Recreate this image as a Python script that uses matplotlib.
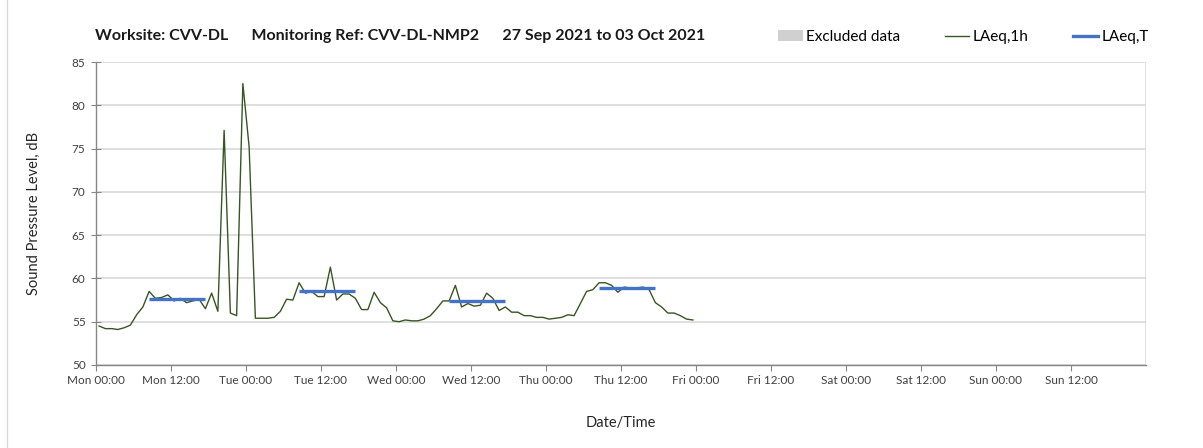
import matplotlib.pyplot as plt
from matplotlib.patches import Patch
from matplotlib.lines import Line2D
import numpy as np

plt.rcParams['font.family'] = ['Lato', 'DejaVu Sans']

# hourly LAeq,1h from Mon 27 Sep 2021 00:00 (dB)
laeq_1h = [54.5, 54.2, 54.2, 54.1, 54.3, 54.6, 55.8, 56.7, 58.5, 57.7,
           57.8, 58.1, 57.4, 57.7, 57.2, 57.4, 57.6, 56.5, 58.3, 56.2,
           77.1, 56.0, 55.7, 82.5, 75.2, 55.4, 55.4, 55.4, 55.5, 56.2,
           57.6, 57.5, 59.5, 58.3, 58.5, 57.9, 57.9, 61.3, 57.5, 58.2,
           58.2, 57.7, 56.4, 56.4, 58.4, 57.2, 56.6, 55.1, 55.0, 55.2,
           55.1, 55.1, 55.3, 55.7, 56.5, 57.4, 57.4, 59.2, 56.7, 57.1,
           56.8, 56.9, 58.3, 57.7, 56.3, 56.7, 56.1, 56.1, 55.7, 55.7,
           55.5, 55.5, 55.3, 55.4, 55.5, 55.8, 55.7, 57.1, 58.5, 58.7,
           59.5, 59.5, 59.2, 58.4, 59.0, 58.9, 58.9, 59.0, 58.7, 57.2,
           56.7, 56.0, 56.0, 55.7, 55.3, 55.2]

# LAeq,T over the daytime periods (first / last hour index)
period_start = [8, 32, 56, 80]
period_end = [17, 41, 65, 89]
laeq_t = [57.6, 58.6, 57.4, 58.9]

excluded = []  # (start hour, end hour) - none this week

tick_labels = ['Mon 00:00', 'Mon 12:00', 'Tue 00:00', 'Tue 12:00',
               'Wed 00:00', 'Wed 12:00', 'Thu 00:00', 'Thu 12:00',
               'Fri 00:00', 'Fri 12:00', 'Sat 00:00', 'Sat 12:00',
               'Sun 00:00', 'Sun 12:00']

hours = np.arange(len(laeq_1h)) + 0.5

fig = plt.figure(figsize=(12.03, 4.48), dpi=100)
ax = fig.add_axes([0.0798, 0.1853, 0.8728, 0.6763])

for a, b in excluded:
    ax.axvspan(a, b, color='#d0d0d0', lw=0)

ax.plot(hours, laeq_1h, color='#375623', lw=1.0, zorder=3)
for s, e, v in zip(period_start, period_end, laeq_t):
    ax.plot([hours[s], hours[e]], [v, v], color='#4472c4', lw=2.4,
            solid_capstyle='butt', zorder=4)

ax.set_xlim(0, 168)
ax.set_ylim(50, 85)
ax.set_xticks(np.arange(0, 168, 12))
ax.set_xticklabels(tick_labels)
ax.set_xticks(np.arange(24, 169, 24), minor=True)
ax.set_yticks(np.arange(50, 86, 5))

ax.grid(axis='y', color='#d9d9d9', lw=1.2)
ax.grid(axis='x', which='minor', color='#d9d9d9', lw=1.2)
ax.set_axisbelow(True)

for sp in ['top', 'right']:
    ax.spines[sp].set_visible(False)
for sp in ['left', 'bottom']:
    ax.spines[sp].set_color('#868686')
    ax.spines[sp].set_linewidth(1.0)
ax.tick_params(axis='x', which='major', direction='out', length=4,
               color='#868686', labelsize=8.5, labelcolor='#404040', pad=3)
ax.tick_params(axis='x', which='minor', length=0)
ax.tick_params(axis='y', direction='inout', length=7, color='#868686',
               labelsize=8.5, labelcolor='#404040', pad=4)

ax.set_ylabel('Sound Pressure Level, dB', fontsize=10.5, color='#262626',
              labelpad=22)
ax.set_xlabel('Date/Time', fontsize=10.5, color='#262626', labelpad=22)

fig.text(95 / 1203, 1 - 36 / 448,
         'Worksite: CVV-DL      Monitoring Ref: CVV-DL-NMP2      '
         '27 Sep 2021 to 03 Oct 2021',
         fontsize=11.5, fontweight='bold', color='#1a1a1a', va='center')

handles = [Patch(facecolor='#d0d0d0', edgecolor='none'),
           Line2D([], [], color='#375623', lw=1.0),
           Line2D([], [], color='#4472c4', lw=2.4)]
fig.legend(handles, ['Excluded data', 'LAeq,1h', 'LAeq,T'], ncol=3,
           loc='center left', bbox_to_anchor=(772 / 1203, 1 - 37 / 448),
           frameon=False, fontsize=11, handlelength=1.6,
           handletextpad=0.25, columnspacing=2.9, borderaxespad=0)

fig.add_artist(Line2D([7 / 1203, 7 / 1203], [0, 1], color='#d9d9d9',
                      lw=1.0, transform=fig.transFigure))

fig.savefig('out.png', dpi=100)
